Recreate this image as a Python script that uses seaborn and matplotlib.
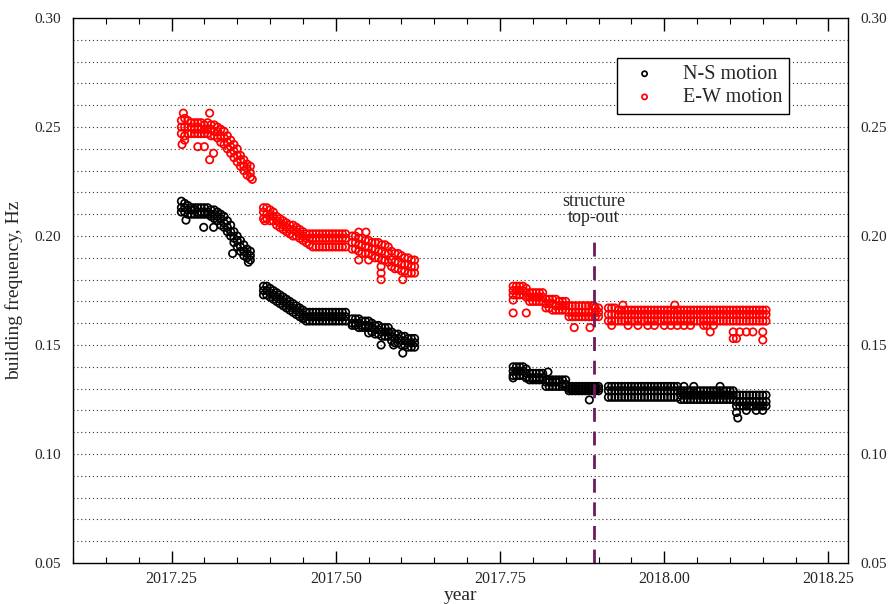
import matplotlib
matplotlib.use("Agg")
import matplotlib.pyplot as plt
import matplotlib.ticker as mticker
import seaborn as sns
import pandas as pd

# ---------------- data ----------------
years = [
    # segment 1
    2017.265, 2017.270, 2017.275, 2017.280, 2017.285, 2017.290, 2017.295, 2017.300, 2017.305, 2017.310, 2017.315,
    2017.320, 2017.325, 2017.330, 2017.335, 2017.340, 2017.345, 2017.350, 2017.355, 2017.360, 2017.365, 2017.370,
    # segment 2a
    2017.390, 2017.395, 2017.400, 2017.405, 2017.410, 2017.415, 2017.420, 2017.425, 2017.430, 2017.435, 2017.440,
    2017.445, 2017.450, 2017.455, 2017.460, 2017.465, 2017.470, 2017.475, 2017.480, 2017.485, 2017.490, 2017.495,
    2017.500, 2017.505, 2017.510, 2017.515,
    # segment 2b
    2017.525, 2017.530, 2017.535, 2017.540, 2017.545, 2017.550, 2017.555, 2017.560, 2017.565, 2017.570,
    2017.575, 2017.580, 2017.585, 2017.590, 2017.595, 2017.600, 2017.605, 2017.610, 2017.615, 2017.620,
    # segment 3
    2017.770, 2017.775, 2017.780, 2017.785, 2017.790, 2017.795, 2017.800, 2017.805, 2017.810, 2017.815,
    2017.820, 2017.825, 2017.830, 2017.835, 2017.840, 2017.845, 2017.850, 2017.855, 2017.860, 2017.865,
    2017.870, 2017.875, 2017.880, 2017.885, 2017.890, 2017.895, 2017.900,
    # segment 4
    2017.915, 2017.920, 2017.925, 2017.930, 2017.935, 2017.940, 2017.945, 2017.950, 2017.955, 2017.960,
    2017.965, 2017.970, 2017.975, 2017.980, 2017.985, 2017.990, 2017.995, 2018.000, 2018.005, 2018.010,
    2018.015, 2018.020, 2018.025, 2018.030, 2018.035, 2018.040, 2018.045, 2018.050, 2018.055, 2018.060,
    2018.065, 2018.070, 2018.075, 2018.080, 2018.085, 2018.090, 2018.095, 2018.100, 2018.105, 2018.110,
    2018.115, 2018.120, 2018.125, 2018.130, 2018.135, 2018.140, 2018.145, 2018.150, 2018.155,
]

ew_hi = [
    .253, .254, .253, .252, .252, .252, .252, .251, .252, .251, .251,
    .250, .249, .248, .246, .244, .242, .240, .237, .235, .233, .232,
    .213, .213, .212, .211, .209, .208, .207, .206, .205, .205, .204,
    .203, .202, .201, .201, .201, .201, .201, .201, .201, .201, .201,
    .201, .201, .201, .201,
    .200, .200, .199, .199, .198, .198, .197, .197, .197, .196,
    .196, .195, .193, .192, .192, .191, .190, .190, .189, .189,
    .177, .177, .177, .177, .176, .174, .174, .174, .174, .174,
    .171, .171, .171, .171, .170, .170, .170, .168, .168, .168,
    .168, .168, .168, .168, .168, .167, .167,
    .167, .167, .167, .166, .166, .166, .166, .166, .166, .166,
    .166, .166, .166, .166, .166, .166, .166, .166, .166, .166,
    .166, .166, .166, .166, .166, .166, .166, .166, .166, .166,
    .166, .166, .166, .166, .166, .166, .166, .166, .166, .166,
    .166, .166, .166, .166, .166, .166, .166, .166, .166,
]
ew_mid = [
    .250, .250, .250, .250, .249, .250, .249, .249, .249, .249, .248,
    .248, .246, .245, .243, .241, .239, .237, .235, .232, .231, .229,
    .211, .210, .210, .209, .207, .206, .205, .204, .203, .203, .202,
    .201, .200, .199, .199, .199, .199, .199, .199, .199, .199, .199,
    .199, .199, .199, .199,
    .197, .197, .196, .196, .195, .195, .194, .194, .193, .193,
    .192, .192, .189, .188, .188, .187, .187, .187, .186, .186,
    .175, .175, .175, .175, .174, .172, .172, .172, .172, .172,
    .169, .169, .169, .168, .168, .168, .168, .165, .165, .165,
    .165, .165, .165, .165, .165, .165, .165,
    .164, .164, .164, .164, .164, .164, .164, .164, .164, .164,
    .164, .164, .164, .164, .164, .164, .164, .164, .164, .164,
    .164, .164, .164, .164, .164, .164, .164, .164, .164, .164,
    .164, .164, .164, .164, .164, .164, .164, .164, .164, .164,
    .164, .164, .164, .164, .164, .164, .164, .164, .164,
]
ew_lo = [
    .247, .246, .247, .247, .247, .247, .247, .247, .247, .246, .246,
    .245, .243, .242, .240, .238, .236, .234, .232, .230, .228, .227,
    .208, .208, .207, .207, .205, .204, .203, .202, .201, .200, .200,
    .199, .198, .197, .196, .195, .195, .195, .195, .195, .195, .195,
    .195, .195, .195, .195,
    .194, .194, .193, .192, .192, .192, .191, .190, .190, .189,
    .189, .188, .186, .185, .185, .184, .184, .183, .183, .183,
    .173, .173, .173, .173, .172, .170, .170, .170, .170, .170,
    .167, .167, .166, .166, .166, .166, .166, .163, .163, .163,
    .163, .163, .163, .163, .163, .163, .163,
    .161, .161, .161, .161, .161, .161, .161, .161, .161, .161,
    .161, .161, .161, .161, .161, .161, .161, .161, .161, .161,
    .161, .161, .161, .161, .161, .161, .161, .161, .161, .161,
    .161, .161, .161, .161, .161, .161, .161, .161, .161, .161,
    .161, .161, .161, .161, .161, .161, .161, .161, .161,
]

ns_hi = [
    .216, .215, .214, .213, .213, .213, .213, .213, .213, .212, .212,
    .211, .210, .209, .207, .205, .202, .200, .198, .196, .194, .193,
    .177, .177, .176, .175, .174, .173, .172, .171, .170, .169, .168,
    .167, .166, .165, .165, .165, .165, .165, .165, .165, .165, .165,
    .165, .165, .165, .165,
    .162, .162, .162, .161, .161, .161, .160, .159, .159, .158,
    .158, .158, .156, .155, .155, .154, .154, .153, .153, .153,
    .140, .140, .140, .140, .139, .137, .137, .137, .137, .137,
    .134, .134, .134, .134, .134, .134, .134, .131, .131, .131,
    .131, .131, .131, .131, .131, .131, .131,
    .131, .131, .131, .131, .131, .131, .131, .131, .131, .131,
    .131, .131, .131, .131, .131, .131, .131, .131, .131, .131,
    .131, .131, .129, .129, .129, .129, .129, .129, .129, .129,
    .129, .129, .129, .129, .129, .129, .129, .129, .129, .127,
    .127, .127, .127, .127, .127, .127, .127, .127, .127,
]
ns_mid = [
    .213, .213, .212, .212, .212, .211, .211, .211, .211, .210, .210,
    .209, .208, .206, .204, .202, .199, .198, .195, .193, .192, .191,
    .175, .175, .174, .173, .172, .171, .170, .169, .168, .167, .166,
    .165, .164, .163, .163, .163, .163, .163, .163, .163, .163, .163,
    .163, .163, .163, .163,
    .160, .160, .160, .159, .159, .159, .158, .157, .157, .156,
    .156, .156, .154, .153, .153, .152, .152, .151, .151, .151,
    .138, .138, .138, .138, .137, .135, .135, .135, .135, .135,
    .133, .133, .133, .133, .133, .132, .132, .130, .130, .130,
    .130, .130, .130, .130, .130, .130, .130,
    .129, .129, .129, .129, .129, .129, .129, .129, .129, .129,
    .129, .129, .129, .129, .129, .129, .129, .129, .129, .129,
    .129, .129, .127, .127, .127, .127, .127, .127, .127, .127,
    .127, .127, .127, .127, .127, .127, .127, .127, .127, .124,
    .124, .124, .124, .124, .124, .124, .124, .124, .124,
]
ns_lo = [
    .211, .211, .210, .210, .210, .210, .210, .210, .210, .209, .208,
    .207, .205, .204, .202, .200, .197, .195, .193, .191, .190, .189,
    .173, .173, .172, .171, .170, .169, .168, .167, .166, .165, .164,
    .163, .162, .161, .161, .161, .161, .161, .161, .161, .161, .161,
    .161, .161, .161, .161,
    .159, .159, .158, .158, .158, .158, .156, .155, .155, .154,
    .154, .154, .152, .151, .151, .150, .150, .149, .149, .149,
    .136, .136, .136, .136, .135, .134, .134, .134, .134, .134,
    .131, .131, .131, .131, .131, .131, .131, .129, .129, .129,
    .129, .129, .129, .129, .129, .129, .129,
    .126, .126, .126, .126, .126, .126, .126, .126, .126, .126,
    .126, .126, .126, .126, .126, .126, .126, .126, .126, .126,
    .126, .126, .125, .125, .125, .125, .125, .125, .125, .125,
    .125, .125, .125, .125, .125, .125, .125, .125, .125, .122,
    .122, .122, .122, .122, .122, .122, .122, .122, .122,
]

ew_out_years = [2017.266, 2017.268, 2017.270, 2017.290, 2017.300, 2017.308, 2017.308, 2017.314, 2017.373,
                2017.392, 2017.535, 2017.546, 2017.535, 2017.550, 2017.569, 2017.569, 2017.569, 2017.602,
                2017.770, 2017.770, 2017.790, 2017.863, 2017.887, 2017.893,
                2017.937, 2018.016, 2017.920, 2017.945, 2017.960, 2017.975, 2017.985, 2018.000, 2018.010,
                2018.020, 2018.030, 2018.040, 2018.060, 2018.065, 2018.075, 2018.070, 2018.105, 2018.105,
                2018.110, 2018.115, 2018.125, 2018.135, 2018.150, 2018.150]
ew_out_freq = [0.242, 0.2564, 0.244, 0.241, 0.241, 0.2564, 0.235, 0.238, 0.226,
               0.207, 0.2018, 0.2018, 0.189, 0.189, 0.186, 0.183, 0.180, 0.180,
               0.1706, 0.1647, 0.1647, 0.158, 0.158, 0.168,
               0.1683, 0.1683, 0.159, 0.159, 0.159, 0.159, 0.159, 0.159, 0.159,
               0.159, 0.159, 0.159, 0.159, 0.159, 0.159, 0.156, 0.156, 0.153,
               0.153, 0.156, 0.156, 0.156, 0.156, 0.1523]

ns_out_years = [2017.272, 2017.299, 2017.314, 2017.343, 2017.367,
                2017.451, 2017.550, 2017.569, 2017.588, 2017.602,
                2017.770, 2017.790, 2017.823, 2017.886,
                2018.030, 2018.045, 2018.085, 2018.110, 2018.112, 2018.125, 2018.140, 2018.150]
ns_out_freq = [0.2073, 0.204, 0.204, 0.192, 0.188,
               0.1624, 0.1555, 0.150, 0.150, 0.1463,
               0.1349, 0.1349, 0.1376, 0.1248,
               0.131, 0.131, 0.131, 0.119, 0.1165, 0.120, 0.120, 0.120]

series_labels = ["N-S motion", "E-W motion"]
series_colors = ["#000000", "#ff0000"]
x_ticks = [2017.25, 2017.50, 2017.75, 2018.00, 2018.25]
y_ticks = [0.05, 0.10, 0.15, 0.20, 0.25, 0.30]
topout_year = 2017.893

# ---------------- build long tables ----------------
ns_df = pd.DataFrame({
    "year": years * 3 + ns_out_years,
    "freq": ns_hi + ns_mid + ns_lo + ns_out_freq,
})
ew_df = pd.DataFrame({
    "year": years * 3 + ew_out_years,
    "freq": ew_hi + ew_mid + ew_lo + ew_out_freq,
})

# ---------------- plot ----------------
sns.set_theme(style="white")
plt.rcParams["font.family"] = ["Liberation Serif", "DejaVu Serif"]

fig = plt.figure(figsize=(8.9, 6.04), dpi=100)
ax = fig.add_axes([0.082, 0.068, 0.871, 0.902])

for df, lab, col in zip([ns_df, ew_df], series_labels, series_colors):
    sns.scatterplot(data=df, x="year", y="freq", ax=ax, marker="o", s=28,
                    color=col, facecolor="none", edgecolor=col, linewidth=1.25,
                    label=lab, zorder=3)

ax.set_xlim(2017.10, 2018.28)
ax.set_ylim(0.05, 0.30)

# grid every 0.01 Hz, dotted
for gy in [0.06 + 0.01 * i for i in range(24)]:
    ax.axhline(gy, color="#333333", linestyle=(0, (1, 2.5)), linewidth=0.8, zorder=1)

ax.set_xticks(x_ticks)
ax.xaxis.set_major_formatter(mticker.FormatStrFormatter("%.2f"))
ax.xaxis.set_minor_locator(mticker.MultipleLocator(0.05))
ax.set_yticks(y_ticks)
ax.yaxis.set_major_formatter(mticker.FormatStrFormatter("%.2f"))
ax.tick_params(axis="x", which="major", direction="in", length=9, width=1, top=True, bottom=True,
               labelsize=11.5, pad=6, color="black")
ax.tick_params(axis="x", which="minor", direction="in", length=4.5, width=0.8, top=True, bottom=True,
               color="black")
ax.tick_params(axis="y", which="major", length=0, left=True, right=True, labelleft=True, labelright=True,
               labelsize=11, pad=8.5)

for sp in ax.spines.values():
    sp.set_color("black")
    sp.set_linewidth(1.0)

ax.set_xlabel("year", fontsize=14, labelpad=0)
ax.set_ylabel("building frequency, Hz", fontsize=14, labelpad=8)

# structure top-out marker
ax.axvline(topout_year, ymin=0.0, ymax=(0.201 - 0.05) / 0.25, color="#6b1a5c",
           linewidth=2.0, linestyle=(0, (5, 3.5)), zorder=4)
ax.text(topout_year, 0.2045, "structure\ntop-out", ha="center", va="bottom",
        fontsize=13, linespacing=0.95, zorder=5)

leg = ax.legend(loc="upper right", bbox_to_anchor=(0.924, 0.927), fontsize=14.5, frameon=True,
                fancybox=False, edgecolor="black", framealpha=1, markerscale=0.7,
                handletextpad=0.9, borderpad=0.35, borderaxespad=0, labelspacing=0.2, handlelength=2.0)
leg.get_frame().set_linewidth(1.0)

fig.savefig("out.png", dpi=100)
